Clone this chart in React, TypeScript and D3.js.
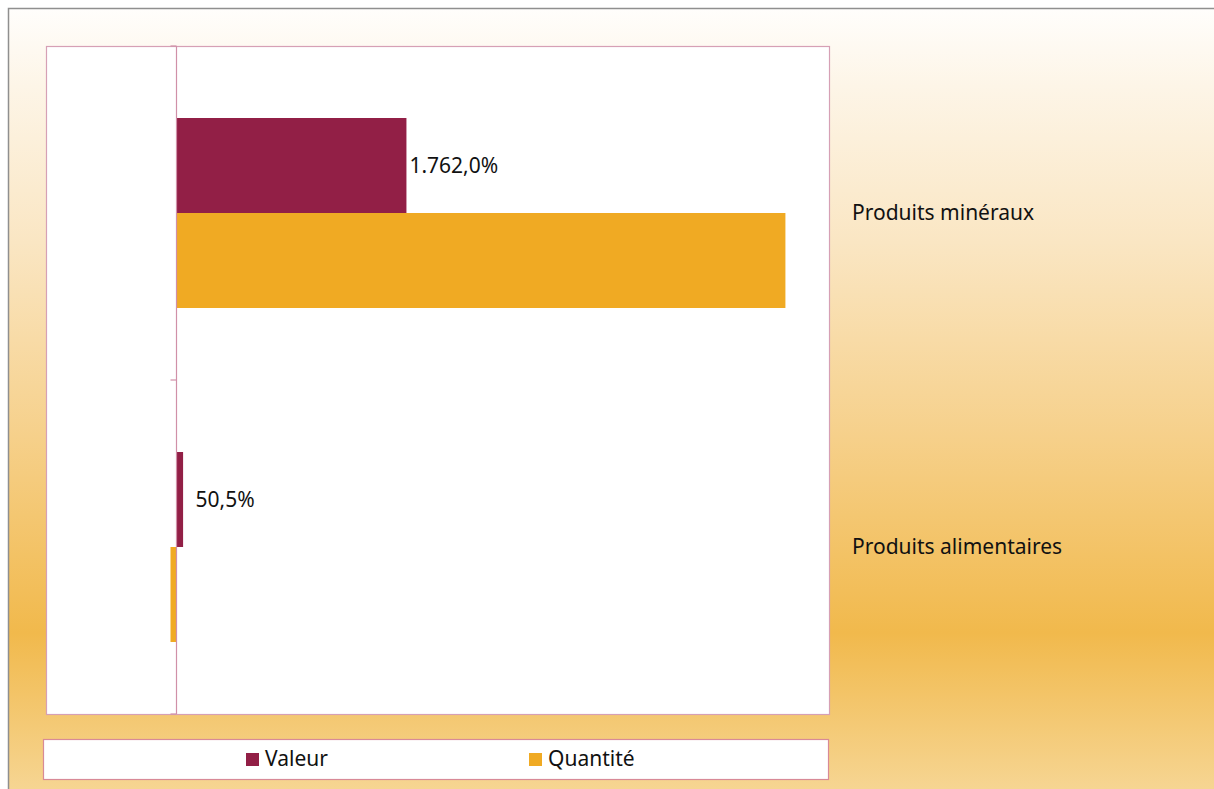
import {useEffect, useRef} from 'react';
import * as d3 from 'd3';

const categories = ['Produits minéraux', 'Produits alimentaires'];
const seriesNames = ['Valeur', 'Quantité'];
const valeur = [1762.0, 50.5];
const quantite = [4666, -46];
const colors = ['#921f46', '#f0aa23'];

const W = 1214;
const H = 789;
const FONT = '"Noto Sans", "Open Sans", sans-serif';
const FS = '21px';

const fr = d3.formatLocale({decimal: ',', thousands: '.', grouping: [3], currency: ['', '€']});
const fmt = fr.format(',.1f');

const App = () => {
    const ref = useRef<SVGSVGElement>(null);

    useEffect(() => {
        const svg = d3.select(ref.current);
        svg.selectAll('*').remove();

        const plot = {left: 46, top: 46, right: 829, bottom: 714};

        // background gradient of the chart area
        const defs = svg.append('defs');
        const grad = defs.append('linearGradient')
            .attr('id', 'bg')
            .attr('gradientUnits', 'userSpaceOnUse')
            .attr('x1', 0).attr('y1', 8).attr('x2', 0).attr('y2', H);
        [
            [0, '#fffefc'],
            [0.1, '#fdf5e7'],
            [0.3, '#fae6c3'],
            [0.55, '#f6d08a'],
            [0.8, '#f1b94c'],
            [1, '#f6d592'],
        ].forEach(([o, c]) => grad.append('stop').attr('offset', o as number).attr('stop-color', c as string));

        svg.append('rect')
            .attr('x', 8.5).attr('y', 8.5)
            .attr('width', W + 20).attr('height', H + 20)
            .attr('fill', 'url(#bg)')
            .attr('stroke', '#8f8f8f')
            .attr('stroke-width', 1.5);

        // plot area
        svg.append('rect')
            .attr('x', plot.left + 0.5).attr('y', plot.top + 0.5)
            .attr('width', plot.right - plot.left).attr('height', plot.bottom - plot.top)
            .attr('fill', '#ffffff')
            .attr('stroke', '#d6a0b5')
            .attr('stroke-width', 1.2);

        const x = d3.scaleLinear().domain([-1000, 5000]).range([plot.left, plot.right]);
        const y = d3.scaleBand().domain(categories).range([plot.top, plot.bottom]).paddingInner(0);
        const yInner = d3.scaleBand().domain(seriesNames).range([0, y.bandwidth()]).paddingInner(0).paddingOuter(0.758);

        const series = [valeur, quantite];

        series.forEach((vals, si) => {
            svg.append('g')
                .selectAll('rect')
                .data(vals)
                .enter().append('rect')
                .attr('x', d => Math.min(x(0), x(d)))
                .attr('width', d => Math.abs(x(d) - x(0)))
                .attr('y', (d, i) => (y(categories[i]) as number) + (yInner(seriesNames[si]) as number))
                .attr('height', yInner.bandwidth())
                .attr('fill', colors[si]);
        });

        // value axis line at zero
        const axisColor = '#d090a8';
        svg.append('line')
            .attr('x1', x(0)).attr('x2', x(0))
            .attr('y1', plot.top).attr('y2', plot.bottom)
            .attr('stroke', axisColor).attr('stroke-width', 1.2);

        const boundaries = [plot.top, ...categories.map(c => (y(c) as number) + y.bandwidth())];
        svg.append('g')
            .selectAll('line')
            .data(boundaries)
            .enter().append('line')
            .attr('x1', x(0) - 6).attr('x2', x(0))
            .attr('y1', d => d).attr('y2', d => d)
            .attr('stroke', axisColor).attr('stroke-width', 1.2);

        // data labels for Valeur
        svg.append('g')
            .selectAll('text')
            .data(valeur)
            .enter().append('text')
            .attr('x', d => Math.max(x(d) + 3, x(0) + 19))
            .attr('y', (d, i) => (y(categories[i]) as number) + (yInner('Valeur') as number) + yInner.bandwidth() / 2)
            .attr('dy', '0.35em')
            .style('font-family', FONT)
            .style('font-size', FS)
            .attr('fill', '#111')
            .text(d => fmt(d) + '%');

        // category labels on the right
        svg.append('g')
            .selectAll('text')
            .data(categories)
            .enter().append('text')
            .attr('x', plot.right + 23)
            .attr('y', d => (y(d) as number) + y.bandwidth() / 2)
            .attr('dy', '0.35em')
            .style('font-family', FONT)
            .style('font-size', FS)
            .attr('fill', '#111')
            .text(d => d);

        // legend
        const leg = {x: 43, y: 739, w: 785, h: 40};
        svg.append('rect')
            .attr('x', leg.x + 0.5).attr('y', leg.y + 0.5)
            .attr('width', leg.w).attr('height', leg.h)
            .attr('fill', '#ffffff')
            .attr('stroke', '#d88a97')
            .attr('stroke-width', 1.2);

        const legX = d3.scalePoint().domain(seriesNames).range([246, 529]);
        const items = svg.append('g')
            .selectAll('g')
            .data(seriesNames)
            .enter().append('g')
            .attr('transform', d => `translate(${legX(d)},${leg.y + leg.h / 2})`);
        items.append('rect')
            .attr('x', 0).attr('y', -6)
            .attr('width', 13).attr('height', 13)
            .attr('fill', (d, i) => colors[i]);
        items.append('text')
            .attr('x', 19).attr('y', 0)
            .attr('dy', '0.35em')
            .style('font-family', FONT)
            .style('font-size', FS)
            .attr('fill', '#111')
            .text(d => d);
    }, []);

    return (
        <svg ref={ref} width={W} height={H}
             style={{position: 'absolute', left: 0, top: 0, display: 'block'}}/>
    );
};

export default App;
